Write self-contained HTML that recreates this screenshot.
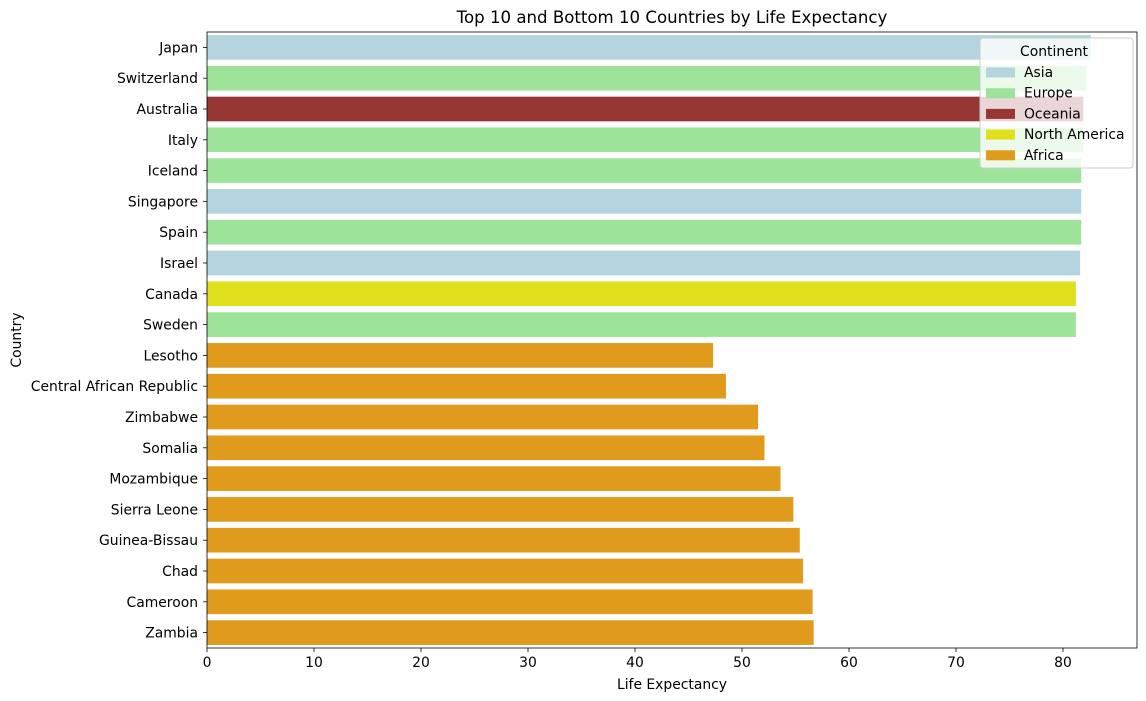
<!DOCTYPE html>
<html><head><meta charset="utf-8"><style>
html,body{margin:0;padding:0;background:#fff;}
svg{display:block;font-family:"DejaVu Sans","Liberation Sans",sans-serif;}
</style></head><body>
<svg id="chart" width="1146" height="701"></svg>
<script>
const countries=["Japan","Switzerland","Australia","Italy","Iceland","Singapore","Spain","Israel","Canada","Sweden","Lesotho","Central African Republic","Zimbabwe","Somalia","Mozambique","Sierra Leone","Guinea-Bissau","Chad","Cameroon","Zambia"];
const lifeExp=[82.6,82.2,81.9,81.9,81.7,81.7,81.7,81.6,81.2,81.2,47.3,48.5,51.5,52.1,53.6,54.8,55.4,55.7,56.6,56.7];
const continents=["Asia","Europe","Oceania","Europe","Europe","Asia","Europe","Asia","North America","Europe","Africa","Africa","Africa","Africa","Africa","Africa","Africa","Africa","Africa","Africa"];
const legendNames=["Asia","Europe","Oceania","North America","Africa"];
const xTicks=[0,10,20,30,40,50,60,70,80];
const colorMap={"Asia":"#b4d5e0","Europe":"#9de39a","Oceania":"#963635","North America":"#e0e01c","Africa":"#e09a1c"};
const NS="http://www.w3.org/2000/svg";
const svg=document.getElementById('chart');
const L=207,R=1137,T=32,B=648,xMax=(R-L)/10.7;
const x=v=>L+v/xMax*(R-L);
const band=(B-T)/countries.length;
const yc=i=>T+band*(i+0.5);
const FS=13.9;
function mk(tag,attrs,parent){const e=document.createElementNS(NS,tag);for(const k in attrs)e.setAttribute(k,attrs[k]);(parent||svg).appendChild(e);return e;}
countries.forEach((c,i)=>{
  const r=mk('rect',{x:L,y:yc(i)-band*0.4,width:x(lifeExp[i])-L,height:band*0.8,fill:colorMap[continents[i]]});
  
  
  mk('line',{x1:L-4,x2:L,y1:yc(i),y2:yc(i),stroke:'#000','stroke-width':0.8});
  const t=mk('text',{x:L-9,y:yc(i)+5,'text-anchor':'end','font-size':FS});
  t.textContent=c;
  
  
});
xTicks.forEach(v=>{
  mk('line',{x1:x(v),x2:x(v),y1:B,y2:B+4,stroke:'#000','stroke-width':0.8});
  const t=mk('text',{x:x(v),y:B+19,'text-anchor':'middle','font-size':FS});
  t.textContent=v;
  
  
});
const frame=mk('rect',{x:L,y:T,width:R-L,height:B-T,fill:'none',stroke:'#000','stroke-width':0.8});


let t=mk('text',{x:(L+R)/2,y:23,'text-anchor':'middle','font-size':16.6});
t.textContent='Top 10 and Bottom 10 Countries by Life Expectancy';


t=mk('text',{x:(L+R)/2,y:689,'text-anchor':'middle','font-size':FS});
t.textContent='Life Expectancy';


t=mk('text',{x:21,y:(T+B)/2,'text-anchor':'middle','font-size':FS,transform:'rotate(-90 21 '+((T+B)/2)+')'});
t.textContent='Country';


const lg=mk('g',{});


mk('rect',{x:980,y:38,width:153,height:130,rx:3,fill:'#fff','fill-opacity':0.8,stroke:'#ccc'},lg);
t=mk('text',{x:1054,y:56,'text-anchor':'middle','font-size':FS},lg);
t.textContent='Continent';
legendNames.forEach((n,i)=>{
  const yy=72+i*20.7;
  const s=mk('rect',{x:986,y:yy-4.5,width:29,height:10,fill:colorMap[n]},lg);
  
  
  const tt=mk('text',{x:1024,y:yy+5,'font-size':FS},lg);
  tt.textContent=n;
  
  
});
</script>
</body></html>
